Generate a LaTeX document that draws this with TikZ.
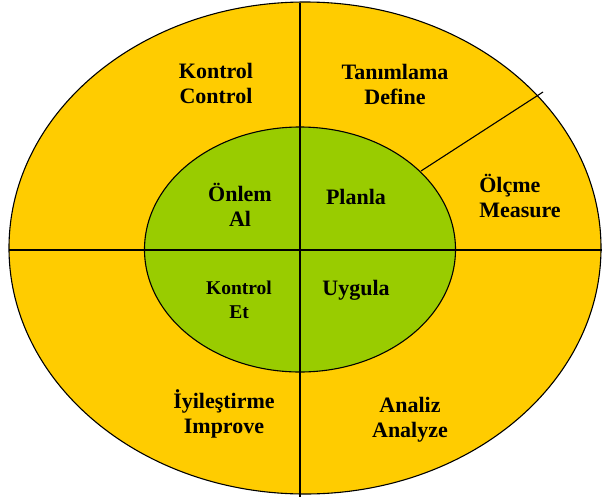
\documentclass[tikz,border=0pt]{standalone}
\usepackage{fontspec}
\setmainfont{Liberation Serif}
\usepackage{tikz}
\usetikzlibrary{positioning,calc}
\definecolor{ringyellow}{HTML}{FFCC00}
\definecolor{coregreen}{HTML}{99CC00}

\begin{document}
\begin{tikzpicture}[x=1pt, y=-1pt,
    lbl/.style={align=center, font=\fontsize{22}{25}\selectfont\bfseries, inner sep=0pt},
    smalllbl/.style={lbl, font=\fontsize{19.5}{24}\selectfont\bfseries},
    ring/.style={line width=1.1pt}
  ]
  \useasboundingbox (0,0) rectangle (603,499);

  % outer ring and inner core
  \filldraw[ring, fill=ringyellow] (305,248) ellipse [x radius=296, y radius=246];
  \fill[coregreen] (300,249.5) ellipse [x radius=155.5, y radius=122.5];

  % dividing lines
  \draw[ring] (300,3) -- (300,497);
  \draw[ring] (9,250) -- (602,250);
  \draw[ring] (421,171) -- (543,92);
  \draw[ring] (300,249.5) ellipse [x radius=155.5, y radius=122.5];

  % outer labels
  \node[lbl] (control) at (216,83) {Kontrol\\Control};
  \node[lbl] (define) at (395,84.5) {Tanımlama\\Define};
  \node[lbl, align=left] (measure) at (520,195.5) {Ölçme\\Measure};
  \node[lbl] (improve) at (224,414) {İyileştirme\\Improve};
  \node[lbl] (analyze) at (410,420) {Analiz\\Analyze};

  % inner labels
  \node[lbl] (act) at (240,205) {Önlem\\Al};
  \node[lbl] (plan) at (356,197) {Planla};
  \node[smalllbl] (check) at (239,300) {Kontrol\\Et};
  \node[lbl] (do) at (356,290) {Uygula};

\end{tikzpicture}
\end{document}
